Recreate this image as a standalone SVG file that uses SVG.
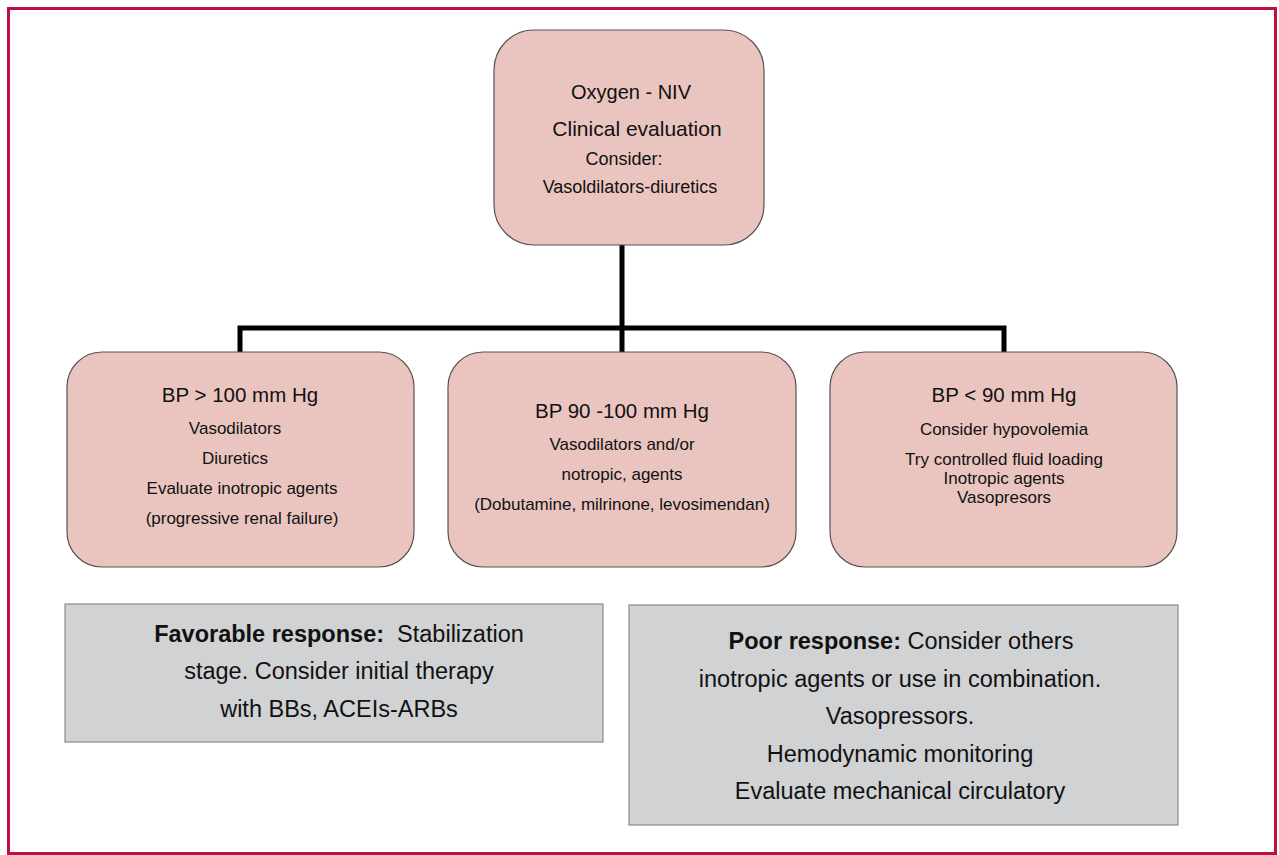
<svg xmlns="http://www.w3.org/2000/svg" width="1279" height="855" viewBox="0 0 1279 855">
<style>
.pink{fill:#eac5c0;stroke:#5a5052;stroke-width:1.2}
.grey{fill:#d1d2d4;stroke:#8a8a8a;stroke-width:1.2}
text{font-family:"Liberation Sans",Arial,sans-serif;fill:#111;text-anchor:middle}
.h{font-size:20.5px}
.s{font-size:17px}
.g{font-size:23.5px}
.b{font-weight:bold}
.conn{fill:none;stroke:#000;stroke-width:5}
</style>
<rect x="0" y="0" width="1279" height="855" fill="#fff"/>
<rect x="8.5" y="8.5" width="1267" height="845" fill="none" stroke="#c0103f" stroke-width="3"/>
<g id="connectors">
<path class="conn" d="M622 245 V352 M240 352 V328 H1004 V352"/>
</g>
<g id="top">
<rect class="pink" x="494" y="30" width="270" height="215" rx="40"/>
<text class="h" x="631" y="99" style="font-size:20px">Oxygen - NIV</text>
<text class="h" x="637" y="136" style="font-size:21px">Clinical evaluation</text>
<text x="624" y="165" style="font-size:18px">Consider:</text>
<text x="630" y="193" style="font-size:18px">Vasoldilators-diuretics</text>
</g>
<g id="bp-high">
<rect class="pink" x="67" y="352" width="347" height="215" rx="35"/>
<text class="h" x="240" y="402">BP &gt; 100 mm Hg</text>
<text class="s" x="235" y="434">Vasodilators</text>
<text class="s" x="235" y="464">Diuretics</text>
<text class="s" x="242" y="494">Evaluate  inotropic agents</text>
<text class="s" x="242" y="524">(progressive renal failure)</text>
</g>
<g id="bp-mid">
<rect class="pink" x="448" y="352" width="348" height="215" rx="35"/>
<text class="h" x="622" y="418">BP 90 -100 mm Hg</text>
<text class="s" x="622" y="450">Vasodilators and/or</text>
<text class="s" x="622" y="480">notropic, agents</text>
<text class="s" x="622" y="510">(Dobutamine, milrinone, levosimendan)</text>
</g>
<g id="bp-low">
<rect class="pink" x="830" y="352" width="347" height="215" rx="35"/>
<text class="h" x="1004" y="402">BP &lt; 90 mm Hg</text>
<text class="s" x="1004" y="435">Consider hypovolemia</text>
<text class="s" x="1004" y="465">Try controlled fluid loading</text>
<text class="s" x="1004" y="484">Inotropic agents</text>
<text class="s" x="1004" y="503">Vasopresors</text>
</g>
<g id="favorable">
<rect class="grey" x="65" y="604" width="538" height="138"/>
<text class="g" x="339" y="642"><tspan class="b">Favorable response:</tspan>&#160; Stabilization</text>
<text class="g" x="339" y="679">stage. Consider initial therapy</text>
<text class="g" x="339" y="717">with BBs, ACEIs-ARBs</text>
</g>
<g id="poor">
<rect class="grey" x="629" y="605" width="549" height="220"/>
<text class="g" x="901" y="649"><tspan class="b">Poor response:</tspan> Consider others</text>
<text class="g" x="900" y="687">inotropic agents or use in combination.</text>
<text class="g" x="900" y="724">Vasopressors.</text>
<text class="g" x="900" y="762">Hemodynamic monitoring</text>
<text class="g" x="900" y="799">Evaluate mechanical circulatory</text>
</g>
</svg>
